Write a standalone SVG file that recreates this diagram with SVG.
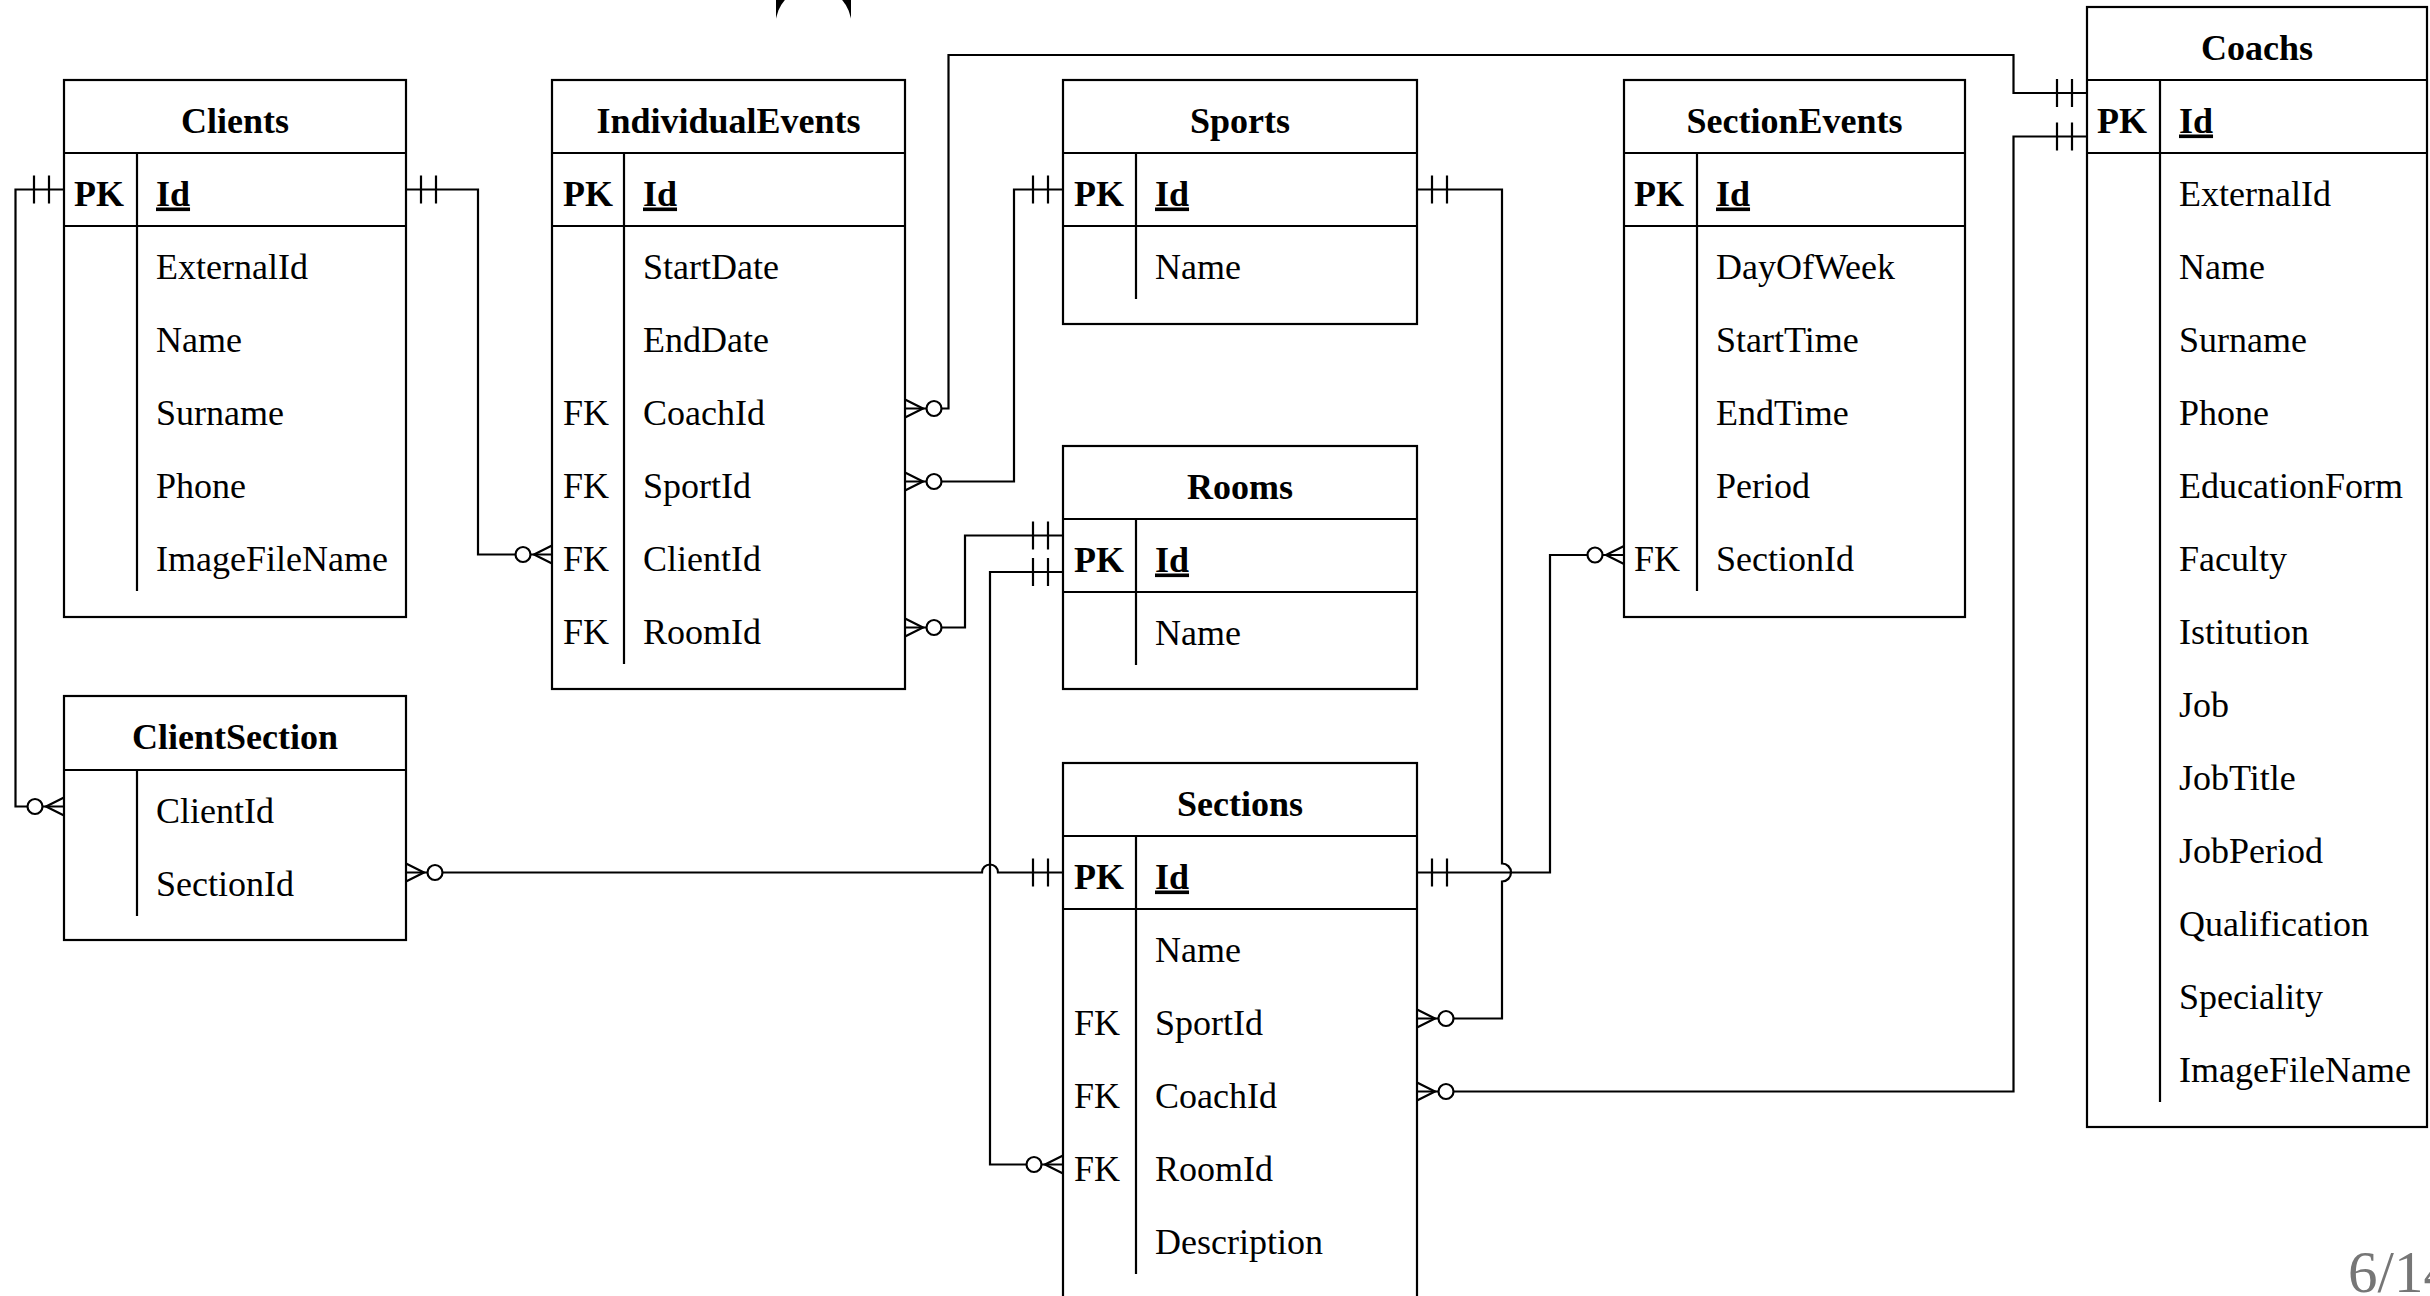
<svg xmlns="http://www.w3.org/2000/svg" width="2430" height="1296" viewBox="0 0 2430 1296">
<style>
.bg{fill:#fff}
.box{fill:#fff;stroke:#000;stroke-width:2.2}
.ln{fill:none;stroke:#000;stroke-width:2.2}
.t{font-family:"Liberation Serif","Times New Roman",serif;font-size:36px;fill:#000}
.h{font-weight:bold;text-anchor:middle}
.k{font-weight:bold}
.u{font-weight:bold;text-decoration:underline}
.c{fill:none;stroke:#000;stroke-width:2.2}
.page{font-family:"Liberation Serif","Times New Roman",serif;font-size:59px;fill:#767676}
</style>
<defs>
<marker id="one" markerUnits="userSpaceOnUse" orient="auto-start-reverse" refX="0" refY="0" markerWidth="40" markerHeight="40" style="overflow:visible">
<path d="M-15,-14V14M-30,-14V14" fill="none" stroke="#000" stroke-width="2.2"/>
</marker>
<marker id="many0" markerUnits="userSpaceOnUse" orient="auto-start-reverse" refX="0" refY="0" markerWidth="40" markerHeight="40" style="overflow:visible">
<path d="M0,-9L-18,0L0,9" fill="none" stroke="#000" stroke-width="2.2"/>
<circle cx="-29" cy="0" r="7.5" fill="#fff" stroke="#000" stroke-width="2.2"/>
</marker>
</defs>
<rect class="bg" x="0" y="0" width="2430" height="1296"/>
<g id="top-shape">
<rect x="776" y="0" width="75" height="19" fill="#000"/>
<circle cx="813.5" cy="25" r="38" fill="#fff"/>
</g>
<g id="connectors">
<path class="c" d="M64,189.5H15.5V806.5H64" marker-start="url(#one)" marker-end="url(#many0)"/>
<path class="c" d="M406,189.5H478V554.5H552" marker-start="url(#one)" marker-end="url(#many0)"/>
<path class="c" d="M905,408.5H948.5V55H2013.5V93H2087" marker-start="url(#many0)" marker-end="url(#one)"/>
<path class="c" d="M905,481.5H1014V189.5H1063" marker-start="url(#many0)" marker-end="url(#one)"/>
<path class="c" d="M905,627.5H965V535.5H1063" marker-start="url(#many0)" marker-end="url(#one)"/>
<path class="c" d="M1063,1164.5H990V572H1063" marker-start="url(#many0)" marker-end="url(#one)"/>
<path class="c" d="M406,872.5H982A8,8 0 0 1 998,872.5H1063" marker-start="url(#many0)" marker-end="url(#one)"/>
<path class="c" d="M1417,872.5H1550V555H1624" marker-start="url(#one)" marker-end="url(#many0)"/>
<path class="c" d="M1417,189.5H1502V863.5A9,9 0 0 1 1502,881.5V1018.5H1417" marker-start="url(#one)" marker-end="url(#many0)"/>
<path class="c" d="M1417,1091.5H2013.5V136.5H2087" marker-start="url(#many0)" marker-end="url(#one)"/>
</g>
<g id="Clients">
<rect class="box" x="64" y="80" width="342" height="537"/>
<path class="ln" d="M64,153H406M64,226H406M137,153V591"/>
<text class="t h" x="235" y="133">Clients</text>
<text class="t k" x="74" y="205.5">PK</text>
<text class="t u" x="156" y="205.5">Id</text>
<text class="t" x="156" y="278.5">ExternalId</text>
<text class="t" x="156" y="351.5">Name</text>
<text class="t" x="156" y="424.5">Surname</text>
<text class="t" x="156" y="497.5">Phone</text>
<text class="t" x="156" y="570.5">ImageFileName</text>
</g>
<g id="IndividualEvents">
<rect class="box" x="552" y="80" width="353" height="609"/>
<path class="ln" d="M552,153H905M552,226H905M624,153V664"/>
<text class="t h" x="728.5" y="133">IndividualEvents</text>
<text class="t k" x="563" y="205.5">PK</text>
<text class="t u" x="643" y="205.5">Id</text>
<text class="t" x="643" y="278.5">StartDate</text>
<text class="t" x="643" y="351.5">EndDate</text>
<text class="t" x="563" y="424.5">FK</text>
<text class="t" x="643" y="424.5">CoachId</text>
<text class="t" x="563" y="497.5">FK</text>
<text class="t" x="643" y="497.5">SportId</text>
<text class="t" x="563" y="570.5">FK</text>
<text class="t" x="643" y="570.5">ClientId</text>
<text class="t" x="563" y="643.5">FK</text>
<text class="t" x="643" y="643.5">RoomId</text>
</g>
<g id="Sports">
<rect class="box" x="1063" y="80" width="354" height="244"/>
<path class="ln" d="M1063,153H1417M1063,226H1417M1136,153V299"/>
<text class="t h" x="1240" y="133">Sports</text>
<text class="t k" x="1074" y="205.5">PK</text>
<text class="t u" x="1155" y="205.5">Id</text>
<text class="t" x="1155" y="278.5">Name</text>
</g>
<g id="Rooms">
<rect class="box" x="1063" y="446" width="354" height="243"/>
<path class="ln" d="M1063,519H1417M1063,592H1417M1136,519V665"/>
<text class="t h" x="1240" y="498.5">Rooms</text>
<text class="t k" x="1074" y="571.5">PK</text>
<text class="t u" x="1155" y="571.5">Id</text>
<text class="t" x="1155" y="644.5">Name</text>
</g>
<g id="Sections">
<rect class="box" x="1063" y="763" width="354" height="536"/>
<path class="ln" d="M1063,836H1417M1063,909H1417M1136,836V1274"/>
<text class="t h" x="1240" y="815.5">Sections</text>
<text class="t k" x="1074" y="888.5">PK</text>
<text class="t u" x="1155" y="888.5">Id</text>
<text class="t" x="1155" y="961.5">Name</text>
<text class="t" x="1074" y="1034.5">FK</text>
<text class="t" x="1155" y="1034.5">SportId</text>
<text class="t" x="1074" y="1107.5">FK</text>
<text class="t" x="1155" y="1107.5">CoachId</text>
<text class="t" x="1074" y="1180.5">FK</text>
<text class="t" x="1155" y="1180.5">RoomId</text>
<text class="t" x="1155" y="1253.5">Description</text>
</g>
<g id="SectionEvents">
<rect class="box" x="1624" y="80" width="341" height="537"/>
<path class="ln" d="M1624,153H1965M1624,226H1965M1697,153V591"/>
<text class="t h" x="1794.5" y="133">SectionEvents</text>
<text class="t k" x="1634" y="205.5">PK</text>
<text class="t u" x="1716" y="205.5">Id</text>
<text class="t" x="1716" y="278.5">DayOfWeek</text>
<text class="t" x="1716" y="351.5">StartTime</text>
<text class="t" x="1716" y="424.5">EndTime</text>
<text class="t" x="1716" y="497.5">Period</text>
<text class="t" x="1634" y="570.5">FK</text>
<text class="t" x="1716" y="570.5">SectionId</text>
</g>
<g id="Coachs">
<rect class="box" x="2087" y="7" width="340" height="1120"/>
<path class="ln" d="M2087,80H2427M2087,153H2427M2160,80V1102"/>
<text class="t h" x="2257" y="60">Coachs</text>
<text class="t k" x="2097" y="132.5">PK</text>
<text class="t u" x="2179" y="132.5">Id</text>
<text class="t" x="2179" y="205.5">ExternalId</text>
<text class="t" x="2179" y="278.5">Name</text>
<text class="t" x="2179" y="351.5">Surname</text>
<text class="t" x="2179" y="424.5">Phone</text>
<text class="t" x="2179" y="497.5">EducationForm</text>
<text class="t" x="2179" y="570.5">Faculty</text>
<text class="t" x="2179" y="643.5">Istitution</text>
<text class="t" x="2179" y="716.5">Job</text>
<text class="t" x="2179" y="789.5">JobTitle</text>
<text class="t" x="2179" y="862.5">JobPeriod</text>
<text class="t" x="2179" y="935.5">Qualification</text>
<text class="t" x="2179" y="1008.5">Speciality</text>
<text class="t" x="2179" y="1081.5">ImageFileName</text>
</g>
<g id="ClientSection">
<rect class="box" x="64" y="696" width="342" height="244"/>
<path class="ln" d="M64,770H406M137,770V916"/>
<text class="t h" x="235" y="749">ClientSection</text>
<text class="t" x="156" y="822.5">ClientId</text>
<text class="t" x="156" y="895.5">SectionId</text>
</g>
<g id="page-number">
<text class="page" x="2348" y="1292">6/14</text>
</g>
</svg>
